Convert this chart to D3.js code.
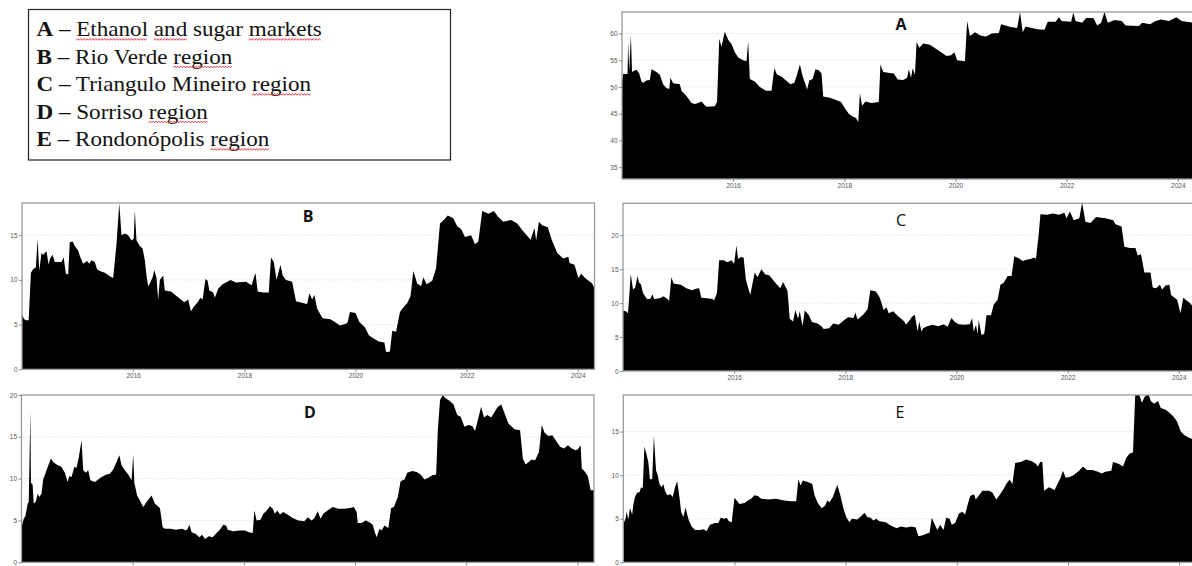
<!DOCTYPE html>
<html>
<head>
<meta charset="utf-8">
<script src="https://cdn.jsdelivr.net/npm/d3@7"></script>
<style>
  body { margin: 0; background: #fff; }
</style>
</head>
<body>
<script>
const width = 1192
const height = 566

// Series: [decimal year, value]
const seriesA = [[2014.00,51],[2014.02,52.4],[2014.10,52.4],[2014.11,58.4],[2014.13,53],[2014.16,59.7],[2014.18,52.8],[2014.26,53.2],[2014.31,52.5],[2014.35,51],[2014.38,50.8],[2014.44,51.2],[2014.50,51.3],[2014.53,53.3],[2014.62,52.8],[2014.68,52.3],[2014.74,50.5],[2014.80,49.8],[2014.85,49.6],[2014.87,51.7],[2014.92,50.7],[2015.04,50.5],[2015.07,49.3],[2015.16,48.3],[2015.25,47],[2015.31,46.8],[2015.37,47],[2015.43,47.3],[2015.47,46.8],[2015.52,46.3],[2015.67,46.4],[2015.71,47.2],[2015.75,59],[2015.79,57.5],[2015.85,60.3],[2015.91,58.8],[2015.97,58],[2016.03,56.5],[2016.09,55.5],[2016.18,55],[2016.24,54.8],[2016.27,58.5],[2016.30,51.5],[2016.39,51],[2016.48,50],[2016.59,49.3],[2016.69,49.3],[2016.74,53.5],[2016.79,52.3],[2016.86,52],[2016.92,51.5],[2017.03,50.5],[2017.10,50.8],[2017.14,52],[2017.20,54.2],[2017.25,52],[2017.30,50.5],[2017.33,49.5],[2017.37,51.2],[2017.43,51.5],[2017.48,53.3],[2017.54,53.1],[2017.59,52.5],[2017.62,48.2],[2017.74,48],[2017.84,47.6],[2017.94,47.2],[2018.01,46],[2018.08,45],[2018.15,44.5],[2018.21,44.2],[2018.25,43.4],[2018.28,48.8],[2018.32,46.5],[2018.38,47.3],[2018.49,47],[2018.62,47.2],[2018.65,54.2],[2018.70,52.8],[2018.82,52.6],[2018.89,52.5],[2018.96,51.4],[2019.06,51.3],[2019.13,51.7],[2019.16,53.3],[2019.20,51.7],[2019.23,53.5],[2019.27,52.3],[2019.30,58.4],[2019.35,57.3],[2019.42,58.1],[2019.54,57.9],[2019.64,57.2],[2019.74,56.5],[2019.84,55.8],[2019.92,55.9],[2019.98,56.5],[2020.03,55],[2020.17,54.8],[2020.21,62.3],[2020.26,59.5],[2020.35,60.2],[2020.45,59.6],[2020.55,59.4],[2020.65,60],[2020.78,60.1],[2020.82,61.7],[2020.99,61.2],[2021.11,61],[2021.16,64],[2021.21,60.2],[2021.26,61.3],[2021.47,60.8],[2021.60,60.7],[2021.66,62.2],[2021.80,62.2],[2021.86,63],[2021.91,62.3],[2022.08,62.2],[2022.12,63.9],[2022.16,62.3],[2022.28,62],[2022.35,62.9],[2022.48,62.9],[2022.55,61.5],[2022.62,62],[2022.68,64],[2022.74,62],[2022.86,62.5],[2022.99,62.3],[2023.06,61.5],[2023.30,61.4],[2023.36,62],[2023.50,61.7],[2023.60,62.3],[2023.70,62.6],[2023.84,62.3],[2023.97,63],[2024.07,62.3],[2024.30,62]];

const seriesB = [[2014.00,6.1],[2014.04,5.6],[2014.08,5.5],[2014.12,5.5],[2014.16,10.8],[2014.20,11.2],[2014.25,11.4],[2014.28,14.6],[2014.31,11],[2014.35,13],[2014.38,12.8],[2014.44,13.2],[2014.48,11.7],[2014.50,12.3],[2014.55,12.8],[2014.59,12],[2014.65,12],[2014.71,12],[2014.75,12.5],[2014.79,10.7],[2014.83,10.6],[2014.86,14.2],[2014.91,14.3],[2014.95,13.8],[2015.01,13.3],[2015.04,12.7],[2015.10,11.8],[2015.17,12.1],[2015.21,11.8],[2015.25,12.2],[2015.31,12],[2015.35,11.2],[2015.40,11],[2015.49,10.8],[2015.58,10.4],[2015.64,10.2],[2015.70,14],[2015.75,18.6],[2015.79,15],[2015.85,15.2],[2015.91,15],[2015.97,14.4],[2016.01,14.6],[2016.03,17.8],[2016.06,14.4],[2016.12,13.8],[2016.17,13.5],[2016.21,12.2],[2016.24,10.5],[2016.27,9.3],[2016.30,9.6],[2016.35,10.3],[2016.38,11.1],[2016.42,10.2],[2016.45,7.8],[2016.48,10],[2016.54,10.5],[2016.57,8.8],[2016.68,8.7],[2016.78,8.2],[2016.92,7.5],[2016.99,7.8],[2017.04,6.5],[2017.09,7],[2017.16,7.5],[2017.21,8],[2017.25,7.8],[2017.30,10.1],[2017.34,9.9],[2017.37,8.8],[2017.44,8.6],[2017.47,8],[2017.53,9],[2017.61,9.5],[2017.75,10],[2017.85,9.7],[2018.03,9.8],[2018.13,9.4],[2018.20,10.8],[2018.24,8.7],[2018.34,8.6],[2018.44,8.6],[2018.48,12.5],[2018.53,12],[2018.58,10],[2018.65,11.7],[2018.69,10.5],[2018.75,10],[2018.86,9.8],[2018.93,7.6],[2019.07,7.4],[2019.13,7.3],[2019.17,8.5],[2019.22,7.8],[2019.26,8.3],[2019.31,6.8],[2019.38,6],[2019.41,5.7],[2019.55,5.6],[2019.65,5.2],[2019.72,4.9],[2019.83,5.1],[2019.86,5.3],[2019.90,6.4],[2020.00,6.3],[2020.07,5.3],[2020.17,4.7],[2020.24,3.8],[2020.31,3.5],[2020.42,3.1],[2020.52,3],[2020.55,1.9],[2020.62,2],[2020.66,4.3],[2020.73,4.2],[2020.80,6.4],[2020.87,7],[2020.93,7.4],[2020.99,8.2],[2021.04,11],[2021.11,9.6],[2021.18,9.3],[2021.22,10.3],[2021.28,9.5],[2021.38,9.9],[2021.45,11.3],[2021.52,16.3],[2021.59,16.7],[2021.66,17.2],[2021.76,16.9],[2021.83,16],[2021.90,15.7],[2021.97,14.8],[2022.08,15],[2022.15,14],[2022.21,14.3],[2022.28,17.7],[2022.39,17.4],[2022.49,17.7],[2022.56,17.1],[2022.66,16.5],[2022.80,16.7],[2022.91,16.3],[2023.01,15.5],[2023.15,14.5],[2023.22,15.8],[2023.25,14.4],[2023.30,16.5],[2023.36,16.1],[2023.46,15.9],[2023.53,14.5],[2023.63,13],[2023.74,12.4],[2023.83,12.6],[2023.85,11.9],[2023.94,11.7],[2024.01,10.2],[2024.06,10.7],[2024.15,10.1],[2024.26,9.6],[2024.30,9]];

const seriesC = [[2014.00,8.9],[2014.05,8.8],[2014.09,8.5],[2014.14,14.3],[2014.18,12],[2014.22,12.3],[2014.26,14],[2014.29,13],[2014.32,12.8],[2014.36,11.5],[2014.43,10.6],[2014.49,10.6],[2014.53,11.3],[2014.56,10.6],[2014.66,10.7],[2014.73,11],[2014.80,10.6],[2014.83,10.3],[2014.87,13.8],[2014.91,12.9],[2015.04,12.7],[2015.14,12.2],[2015.24,11.9],[2015.31,12.1],[2015.37,12.2],[2015.41,10.8],[2015.51,10.7],[2015.61,10.6],[2015.64,10.4],[2015.69,11.5],[2015.73,16.3],[2015.81,16.3],[2015.88,16],[2015.95,16.3],[2016.00,15.8],[2016.04,18.5],[2016.07,16.5],[2016.12,16.8],[2016.17,16.7],[2016.21,13.5],[2016.25,12.3],[2016.29,11.2],[2016.32,12.5],[2016.37,14.5],[2016.42,13.8],[2016.49,15],[2016.56,14.2],[2016.63,14.1],[2016.69,13.5],[2016.76,12.8],[2016.83,12.2],[2016.88,13.1],[2016.93,12.3],[2016.96,11.8],[2017.00,7.7],[2017.06,7.3],[2017.10,9],[2017.15,7.7],[2017.18,8.8],[2017.23,6.6],[2017.27,8.9],[2017.34,8.3],[2017.40,7.2],[2017.50,7],[2017.57,6.6],[2017.61,6.2],[2017.71,6.3],[2017.78,7],[2017.88,6.8],[2017.98,7.5],[2018.05,7.9],[2018.15,7.8],[2018.18,8.6],[2018.22,7.6],[2018.32,8.3],[2018.40,9.1],[2018.45,11.9],[2018.55,11.7],[2018.62,10.8],[2018.69,9],[2018.74,9.4],[2018.78,8.5],[2018.86,8.8],[2018.93,8.2],[2018.99,7.8],[2019.06,7.3],[2019.09,6.8],[2019.16,7.5],[2019.20,8],[2019.25,8.3],[2019.30,5.8],[2019.33,7.3],[2019.37,5.8],[2019.40,6.3],[2019.47,6.6],[2019.57,6.8],[2019.67,6.6],[2019.77,6.9],[2019.84,6.5],[2019.91,7.8],[2019.97,7.2],[2020.04,6.9],[2020.14,6.8],[2020.24,6.9],[2020.28,7.8],[2020.31,5.8],[2020.35,6.8],[2020.38,5.5],[2020.40,7.5],[2020.45,5.3],[2020.50,5.5],[2020.54,8.2],[2020.62,8.2],[2020.67,9.8],[2020.74,10.5],[2020.79,12.7],[2020.85,13],[2020.92,14],[2020.99,14],[2021.04,16.9],[2021.12,16.6],[2021.19,16.2],[2021.26,16.4],[2021.33,16.5],[2021.40,16.7],[2021.43,16.5],[2021.48,20.2],[2021.51,23.1],[2021.63,23],[2021.73,23.2],[2021.84,23],[2021.94,23.3],[2021.98,22.5],[2022.04,23.5],[2022.11,22.2],[2022.21,22.5],[2022.26,24.8],[2022.32,22],[2022.41,21.8],[2022.51,22.7],[2022.68,22.5],[2022.82,22.2],[2022.86,21.6],[2022.97,21.3],[2023.02,18.3],[2023.12,18.1],[2023.22,18.1],[2023.26,17],[2023.32,17.2],[2023.38,14.5],[2023.49,14.5],[2023.53,12.3],[2023.59,12.2],[2023.66,12.7],[2023.70,12],[2023.76,12.6],[2023.83,12.7],[2023.86,11.2],[2023.97,10.5],[2024.03,8.5],[2024.08,10.8],[2024.14,10.4],[2024.20,10],[2024.30,9]];

const seriesD = [[2014.00,4.2],[2014.04,5.2],[2014.07,5.5],[2014.11,7],[2014.13,7.2],[2014.16,18.1],[2014.17,9.5],[2014.20,9.3],[2014.22,7],[2014.26,7.3],[2014.29,8.2],[2014.32,7.8],[2014.36,8.2],[2014.39,9.9],[2014.45,11],[2014.53,12.4],[2014.57,12],[2014.63,11.7],[2014.72,11.4],[2014.78,10.7],[2014.83,9.6],[2014.86,10.3],[2014.90,10.2],[2014.95,11.4],[2014.99,11.3],[2015.03,12.5],[2015.08,14.6],[2015.11,11],[2015.16,10.7],[2015.20,11],[2015.24,9.8],[2015.32,9.6],[2015.38,9.9],[2015.44,10.2],[2015.53,10.5],[2015.59,10.6],[2015.65,11.1],[2015.71,12],[2015.76,12.8],[2015.80,11.6],[2015.86,11],[2015.92,10.5],[2015.98,9.8],[2016.01,12.9],[2016.03,9.5],[2016.08,8],[2016.13,7.4],[2016.19,6.6],[2016.25,7.2],[2016.34,8],[2016.40,7],[2016.44,6.8],[2016.49,6.5],[2016.54,4.2],[2016.58,4],[2016.68,4],[2016.78,3.9],[2016.89,4],[2016.96,3.8],[2016.99,4],[2017.02,4.5],[2017.06,3.6],[2017.13,3.4],[2017.20,3],[2017.25,3.3],[2017.30,2.8],[2017.37,3.1],[2017.44,3],[2017.51,3.5],[2017.57,3.9],[2017.63,4.5],[2017.68,4.4],[2017.71,3.9],[2017.81,3.7],[2017.92,3.8],[2018.02,3.8],[2018.09,3.6],[2018.16,3.5],[2018.19,6.2],[2018.23,5],[2018.30,5.1],[2018.35,5.8],[2018.40,6.1],[2018.47,6.7],[2018.52,6.4],[2018.56,5.8],[2018.60,6.2],[2018.65,5.7],[2018.71,6],[2018.81,5.6],[2018.88,5.3],[2018.98,5],[2019.09,4.9],[2019.15,5.4],[2019.22,5],[2019.27,5.3],[2019.33,6.1],[2019.38,5.2],[2019.43,5.8],[2019.53,6.3],[2019.60,6.6],[2019.70,6.4],[2019.81,6.4],[2019.91,6.5],[2019.98,6.6],[2020.03,6],[2020.05,4.7],[2020.12,4.7],[2020.19,5],[2020.26,4.8],[2020.32,4.5],[2020.36,3.5],[2020.39,3],[2020.44,4],[2020.48,3.8],[2020.53,4.4],[2020.60,4.1],[2020.65,6.5],[2020.70,6.6],[2020.77,7.8],[2020.82,9.7],[2020.89,9.9],[2020.94,10.7],[2021.03,10.9],[2021.11,10.8],[2021.18,10.5],[2021.25,9.9],[2021.32,10.1],[2021.39,10.4],[2021.46,10.5],[2021.49,15.8],[2021.53,19.4],[2021.58,20],[2021.63,19.6],[2021.70,19.3],[2021.77,18.9],[2021.84,17.6],[2021.90,17.4],[2021.97,16.2],[2022.04,16.4],[2022.11,16.3],[2022.16,15.7],[2022.21,17],[2022.27,18.6],[2022.32,17.3],[2022.38,17.6],[2022.45,17.3],[2022.56,18.5],[2022.63,18.9],[2022.68,18],[2022.76,16.6],[2022.87,15.9],[2022.97,15.8],[2023.02,12.4],[2023.07,11.7],[2023.18,12.3],[2023.24,12.2],[2023.31,13.2],[2023.36,16.4],[2023.41,15.5],[2023.48,15.1],[2023.55,15.2],[2023.62,14.5],[2023.69,13.8],[2023.76,13.6],[2023.83,14],[2023.90,13.6],[2023.97,13.4],[2024.01,13.5],[2024.06,14],[2024.08,11.2],[2024.14,10.8],[2024.19,10.3],[2024.24,8.6],[2024.30,8.6]];

const seriesE = [[2014.00,4.4],[2014.04,5],[2014.06,5.8],[2014.09,4.9],[2014.12,6.2],[2014.16,5.5],[2014.18,6.6],[2014.21,7.5],[2014.25,8],[2014.29,8],[2014.32,8.6],[2014.35,8.5],[2014.38,13.3],[2014.42,12.3],[2014.45,11.5],[2014.48,9.5],[2014.52,9.6],[2014.55,14.5],[2014.59,10.5],[2014.62,10],[2014.65,9],[2014.69,8.6],[2014.72,9],[2014.75,8.2],[2014.79,7.7],[2014.85,7.8],[2014.89,7.5],[2014.93,8.6],[2014.97,9.3],[2015.01,7.5],[2015.04,5.8],[2015.08,5.2],[2015.12,6.3],[2015.15,5.5],[2015.18,4.8],[2015.23,4.1],[2015.29,3.7],[2015.38,3.7],[2015.44,3.8],[2015.50,3.6],[2015.56,4.3],[2015.65,4.5],[2015.71,4.5],[2015.75,5.1],[2015.81,5],[2015.86,5.1],[2015.90,4.7],[2015.95,4.6],[2016.00,7.4],[2016.05,7],[2016.09,6.7],[2016.18,6.8],[2016.24,7.1],[2016.30,7.3],[2016.36,7.7],[2016.42,7.6],[2016.48,7.3],[2016.62,7.2],[2016.75,7.3],[2016.89,7.1],[2017.02,7],[2017.11,7],[2017.15,9.5],[2017.19,8.8],[2017.23,9.4],[2017.33,9.2],[2017.40,9],[2017.44,7.7],[2017.50,6.8],[2017.57,6.2],[2017.63,6.5],[2017.67,7.1],[2017.71,6.9],[2017.77,7.5],[2017.85,8.9],[2017.90,7.8],[2017.96,6.2],[2018.01,5.2],[2018.07,4.6],[2018.11,5],[2018.21,4.9],[2018.28,5.3],[2018.34,5.7],[2018.39,5.2],[2018.45,5.1],[2018.50,4.8],[2018.55,5],[2018.61,4.7],[2018.72,4.6],[2018.82,4.2],[2018.92,3.9],[2018.99,4.1],[2019.09,4],[2019.19,4.1],[2019.26,4],[2019.31,3],[2019.39,3.1],[2019.46,3.3],[2019.51,3.4],[2019.55,5.1],[2019.60,4.4],[2019.65,3.7],[2019.70,4.3],[2019.76,3.7],[2019.81,5.1],[2019.87,5],[2019.91,4.3],[2019.97,4.5],[2020.04,5.6],[2020.10,5.8],[2020.15,5.5],[2020.19,6.5],[2020.24,7.6],[2020.31,7.8],[2020.34,7.2],[2020.39,7.6],[2020.46,8.2],[2020.58,8.2],[2020.64,8],[2020.71,7.2],[2020.78,7.8],[2020.85,8.5],[2020.89,9],[2020.95,9.5],[2021.00,9],[2021.05,11.4],[2021.15,11.5],[2021.25,11.8],[2021.35,11.6],[2021.42,11.3],[2021.46,11],[2021.50,11.5],[2021.54,11.5],[2021.57,8.2],[2021.66,8.6],[2021.76,8.3],[2021.81,9],[2021.86,9.6],[2021.91,10.5],[2021.96,9.7],[2022.03,9.8],[2022.10,10],[2022.20,10.5],[2022.27,11],[2022.34,10.6],[2022.44,10.6],[2022.54,10.4],[2022.61,10.2],[2022.67,10.4],[2022.78,10.5],[2022.81,11.5],[2022.91,11.3],[2022.99,11],[2023.05,12],[2023.11,12.5],[2023.17,12.6],[2023.21,19.2],[2023.28,19.3],[2023.33,18.3],[2023.38,19],[2023.45,19.3],[2023.49,18.5],[2023.55,18.2],[2023.62,18.5],[2023.67,17.7],[2023.76,17.5],[2023.82,17.2],[2023.89,16.8],[2023.96,16.2],[2024.03,15],[2024.09,14.6],[2024.18,14.3],[2024.30,14]];

const xTicks = [2016, 2018, 2020, 2022, 2024]

const legendKeys = ["A", "B", "C", "D", "E"]
const legendLabels = ["Ethanol and sugar markets", "Rio Verde region", "Triangulo Mineiro region", "Sorriso region", "Rondonópolis region"]
// words the spell-checker flagged (red wavy underline)
const flagged = [["Ethanol", "and", "markets"], ["region"], ["region"], ["region"], ["region"]]

// showLabels: the bottom row's year labels fall below the picture edge
const panels = [
    {key: "A", data: seriesA, left: 622, top: 12, right: 1196, bottom: 179, yMin: 32.8, yMax: 64, yTicks: [35, 40, 45, 50, 55, 60], titleX: 901, titleY: 30, bold: true, showLabels: true},
    {key: "B", data: seriesB, left: 22, top: 203, right: 594.5, bottom: 369.3, yMin: 0, yMax: 18.6, yTicks: [0, 5, 10, 15], titleX: 308, titleY: 222, bold: true, showLabels: true},
    {key: "C", data: seriesC, left: 623, top: 203.3, right: 1196, bottom: 371, yMin: 0, yMax: 24.7, yTicks: [0, 5, 10, 15, 20], titleX: 901, titleY: 226, bold: false, showLabels: true},
    {key: "D", data: seriesD, left: 21.5, top: 395, right: 594, bottom: 562.3, yMin: 0, yMax: 20, yTicks: [0, 5, 10, 15, 20], titleX: 310, titleY: 418, bold: true, showLabels: false},
    {key: "E", data: seriesE, left: 623.3, top: 395, right: 1196, bottom: 562.3, yMin: 0, yMax: 19.2, yTicks: [0, 5, 10, 15], titleX: 900, titleY: 418, bold: false, showLabels: false}
];

const svg = d3.select("body").append("svg")
    .attr("width", width)
    .attr("height", height)
    .style("display", "block");

// ---- legend box ----
const legend = svg.append("g");
const stretch = 1.1;  // the pasted legend is slightly stretched sideways

legend.append("rect")
    .attr("x", 28.5).attr("y", 9.5)
    .attr("width", 422).attr("height", 150.5)
    .attr("fill", "none")
    .attr("stroke", "#222")
    .attr("stroke-width", 1.2);

legendKeys.forEach((k, i) => {
    const baseY = 36 + i * 27.5;
    const t = legend.append("text")
        .attr("transform", `translate(36.5,${baseY}) scale(${stretch},1)`)
        .style("font-family", "'Liberation Serif', 'Times New Roman', serif")
        .style("font-size", "21px")
        .attr("fill", "#111");
    t.append("tspan").style("font-weight", "bold").text(k);
    t.append("tspan").text(" \u2013 " + legendLabels[i]);

    // wavy red underline under flagged words
    const full = k + " \u2013 " + legendLabels[i];
    const node = t.node();
    flagged[i].forEach(w => {
        const idx = full.indexOf(w, k.length + 3);
        if (idx < 0) return;
        const x0 = 36.5 + stretch * node.getSubStringLength(0, idx);
        const x1 = x0 + stretch * node.getSubStringLength(idx, w.length);
        const pts = [];
        for (let x = x0, j = 0; x <= x1; x += 1.5, j++) {
            pts.push([x, baseY + 3.4 + (j % 2 ? -0.9 : 0.9)]);
        }
        legend.append("path")
            .attr("d", d3.line()(pts))
            .attr("fill", "none")
            .attr("stroke", "#e0343c")
            .attr("stroke-width", 0.9);
    });
});

// ---- panels ----
panels.forEach(p => {
    const g = svg.append("g");

    const x = d3.scaleLinear()
        .domain([2014.0, 2024.3])
        .range([p.left, p.left + (594.5 - 22)]);

    const y = d3.scaleLinear()
        .domain([p.yMin, p.yMax])
        .range([p.bottom, p.top]);

    const clipId = "clip" + p.key;
    svg.append("clipPath").attr("id", clipId)
        .append("rect")
        .attr("x", p.left).attr("y", p.top)
        .attr("width", p.right - p.left).attr("height", p.bottom - p.top);

    // faint horizontal grid
    g.selectAll(".grid")
        .data(p.yTicks.filter(v => v > p.yMin))
        .enter()
        .append("line")
        .attr("x1", p.left).attr("x2", p.right)
        .attr("y1", d => y(d)).attr("y2", d => y(d))
        .attr("stroke", "#dcdcdc")
        .attr("stroke-width", 0.8)
        .attr("stroke-dasharray", "1.5,1.5");

    const area = d3.area()
        .x(d => x(d[0]))
        .y0(y(p.yMin))
        .y1(d => y(d[1]));

    g.append("path")
        .datum(p.data)
        .attr("clip-path", "url(#" + clipId + ")")
        .attr("d", area)
        .attr("fill", "#000");

    // frame
    g.append("rect")
        .attr("x", p.left).attr("y", p.top)
        .attr("width", p.right - p.left).attr("height", p.bottom - p.top)
        .attr("fill", "none")
        .attr("stroke", "#9a9a9a")
        .attr("stroke-width", 1.3);

    const yAxis = g.append("g")
        .attr("transform", `translate(${p.left},0)`)
        .call(d3.axisLeft(y).tickValues(p.yTicks).tickSize(3).tickPadding(1.5).tickFormat(d3.format("d")));

    const xAxis = g.append("g")
        .attr("transform", `translate(0,${p.bottom})`)
        .call(d3.axisBottom(x).tickValues(xTicks).tickSize(3).tickPadding(1.5)
            .tickFormat(p.showLabels ? d3.format("d") : () => ""));

    [yAxis, xAxis].forEach(a => {
        a.select(".domain").remove();
        a.selectAll(".tick line").attr("stroke", "#8a8a8a");
        a.selectAll(".tick text")
            .attr("fill", "#555")
            .style("font-family", "'Liberation Sans', Arial, sans-serif")
            .style("font-size", "6.5px");
    });

    g.append("text")
        .attr("x", p.titleX).attr("y", p.titleY)
        .attr("text-anchor", "middle")
        .style("font-family", "'Open Sans', 'Liberation Sans', sans-serif")
        .style("font-size", "16px")
        .style("font-weight", p.bold ? "bold" : "normal")
        .attr("fill", "#111")
        .text(p.key);
});
</script>
</body>
</html>
